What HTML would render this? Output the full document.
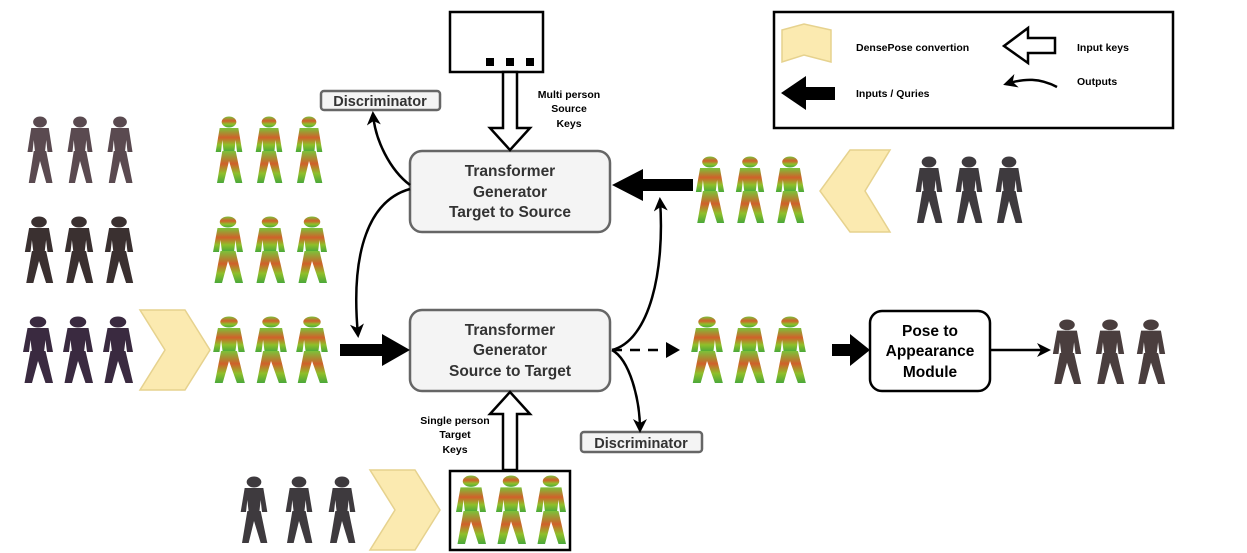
<!DOCTYPE html>
<html><head><meta charset="utf-8"><style>
body{margin:0;background:#fff}
svg{display:block;font-family:"Liberation Sans",sans-serif;font-weight:bold}
</style></head><body>
<svg width="1247" height="553" viewBox="0 0 1247 553" xmlns="http://www.w3.org/2000/svg">
<defs>
<linearGradient id="g" x1="0" y1="0" x2="0" y2="1">
<stop offset="0" stop-color="#7bc23a"/><stop offset="0.4" stop-color="#d0602a"/><stop offset="0.7" stop-color="#8fbf2a"/><stop offset="1" stop-color="#4aa83a"/></linearGradient>
<symbol id="p" viewBox="0 0 24 70" preserveAspectRatio="none">
<circle cx="12" cy="7" r="5.5"/>
<path d="M5 13 h14 l3 24 h-4 l-1 -12 l-1 12 h-8 l-1 -12 l-1 12 h-4z"/>
<path d="M7 36 h10 l5 32 h-5 l-5 -22 l-4 22 h-5z"/>
</symbol>
<marker id="ah" markerWidth="14" markerHeight="14" refX="11" refY="7" orient="auto" markerUnits="userSpaceOnUse"><path d="M0 0 L14 7 L0 14 L4 7z" fill="#000"/></marker>
</defs>

<rect x="774" y="12" width="399" height="116" fill="#fff" stroke="#000" stroke-width="2.5"/>

<!-- left people -->
<g fill="#5a4a50">
<use href="#p" x="25" y="115" width="30" height="70"/><use href="#p" x="65" y="115" width="30" height="70"/><use href="#p" x="105" y="115" width="30" height="70"/>
</g>
<g fill="#3a3030">
<use href="#p" x="22" y="215" width="34" height="70"/><use href="#p" x="62" y="215" width="34" height="70"/><use href="#p" x="102" y="215" width="34" height="70"/>
</g>
<g fill="#3a2a40">
<use href="#p" x="20" y="315" width="36" height="70"/><use href="#p" x="60" y="315" width="36" height="70"/><use href="#p" x="100" y="315" width="36" height="70"/>
</g>
<g fill="url(#g)">
<use href="#p" x="213" y="115" width="32" height="70"/><use href="#p" x="253" y="115" width="32" height="70"/><use href="#p" x="293" y="115" width="32" height="70"/>
<use href="#p" x="210" y="215" width="36" height="70"/><use href="#p" x="252" y="215" width="36" height="70"/><use href="#p" x="294" y="215" width="36" height="70"/>
<use href="#p" x="210" y="315" width="38" height="70"/><use href="#p" x="252" y="315" width="38" height="70"/><use href="#p" x="293" y="315" width="38" height="70"/>
<use href="#p" x="693" y="155" width="34" height="70"/><use href="#p" x="733" y="155" width="34" height="70"/><use href="#p" x="773" y="155" width="34" height="70"/>
<use href="#p" x="688" y="315" width="38" height="70"/><use href="#p" x="730" y="315" width="38" height="70"/><use href="#p" x="771" y="315" width="38" height="70"/>
<use href="#p" x="453" y="474" width="36" height="72"/><use href="#p" x="493" y="474" width="36" height="72"/><use href="#p" x="533" y="474" width="36" height="72"/>
</g>
<g fill="#3e3a3e">
<use href="#p" x="913" y="155" width="32" height="70"/><use href="#p" x="953" y="155" width="32" height="70"/><use href="#p" x="993" y="155" width="32" height="70"/>
<use href="#p" x="238" y="475" width="32" height="70"/><use href="#p" x="283" y="475" width="32" height="70"/><use href="#p" x="326" y="475" width="32" height="70"/>
</g>
<g fill="#4a3e3e">
<use href="#p" x="1050" y="318" width="34" height="68"/><use href="#p" x="1093" y="318" width="34" height="68"/><use href="#p" x="1134" y="318" width="34" height="68"/>
</g>

<!-- chevrons -->
<g fill="#fbeab0" stroke="#e6d28e" stroke-width="1.5">
<path d="M140 310 H185 L210 350 L185 390 H140 L165 350z"/>
<path d="M890 150 H850 L820 191 L850 232 H890 L865 191z"/>
<path d="M370 470 H415 L440 510 L415 550 H370 L395 510z"/>
<path d="M782 30 L804 24 L831 30 V62 L804 55 L782 62z"/>
</g>

<!-- boxes -->
<rect x="450" y="12" width="93" height="60" fill="#fff" stroke="#000" stroke-width="2.5"/>
<rect x="486" y="58" width="8" height="8"/><rect x="506" y="58" width="8" height="8"/><rect x="526" y="58" width="8" height="8"/>
<rect x="410" y="151" width="200" height="81" rx="12" fill="#f4f4f4" stroke="#666" stroke-width="2.5"/>
<rect x="410" y="310" width="200" height="81" rx="12" fill="#f4f4f4" stroke="#666" stroke-width="2.5"/>
<rect x="870" y="311" width="120" height="80" rx="12" fill="#fff" stroke="#000" stroke-width="2.5"/>
<rect x="450" y="471" width="120" height="79" fill="none" stroke="#000" stroke-width="2.5"/>
<rect x="321" y="91" width="119" height="19" rx="3" fill="#f4f4f4" stroke="#666" stroke-width="2.5"/>
<rect x="581" y="432" width="121" height="20" rx="3" fill="#f4f4f4" stroke="#666" stroke-width="2.5"/>

<!-- hollow arrows -->
<path d="M503 72 H517 V128 H530 L510 150 L490 128 H503z" fill="#fff" stroke="#000" stroke-width="2.5"/>
<path d="M503 470 H517 V414 H530 L510 392 L490 414 H503z" fill="#fff" stroke="#000" stroke-width="2.5"/>
<path d="M1055 38 H1028 V28 L1004 46 L1028 63 V53 H1055z" fill="#fff" stroke="#000" stroke-width="2.5"/>

<!-- black arrows -->
<path d="M340 344 H382 V334 L410 350 L382 366 V356 H340z"/>
<path d="M693 179 H643 V169 L612 185 L643 201 V191 H693z"/>
<path d="M832 344 H850 V334 L870 350 L850 366 V356 H832z"/>
<path d="M835 87 H806 V76 L781 93 L806 110 V100 H835z"/>

<!-- curves -->
<g fill="none" stroke="#000" stroke-width="2.5" marker-end="url(#ah)">
<path d="M410 189 C370 200 350 250 358 335"/>
<path d="M410 185 C390 170 375 140 373 114"/>
<path d="M612 350 C650 340 665 270 660 200"/>
<path d="M612 350 C630 360 640 400 640 430"/>
<path d="M990 350 H1048"/>
<path d="M1057 87 C1040 78 1025 78 1006 84"/>
</g>
<path d="M612 350 H670" fill="none" stroke="#000" stroke-width="2.5" stroke-dasharray="10 8"/>
<path d="M666 342 L680 350 L666 358z"/>

<!-- text -->
<g text-anchor="middle" fill="#333" font-size="15.5">
<text x="510" y="176">Transformer</text><text x="510" y="197">Generator</text><text x="510" y="217">Target to Source</text>
<text x="510" y="335">Transformer</text><text x="510" y="355">Generator</text><text x="510" y="376">Source to Target</text>
</g>
<g text-anchor="middle" fill="#000" font-size="15.5">
<text x="930" y="336">Pose to</text><text x="930" y="356">Appearance</text><text x="930" y="377">Module</text>
</g>
<text x="380" y="106" text-anchor="middle" font-size="14.5" fill="#333">Discriminator</text>
<text x="641" y="448" text-anchor="middle" font-size="14.5" fill="#333">Discriminator</text>
<g text-anchor="middle" font-size="10.5" fill="#000">
<text x="569" y="98">Multi person</text><text x="569" y="112">Source</text><text x="569" y="127">Keys</text>
<text x="455" y="424">Single person</text><text x="455" y="438">Target</text><text x="455" y="453">Keys</text>
</g>
<g font-size="10.5" fill="#000">
<text x="856" y="51">DensePose convertion</text>
<text x="1077" y="51">Input keys</text>
<text x="1077" y="85">Outputs</text>
<text x="856" y="97">Inputs / Quries</text>
</g>
</svg>
</body></html>
